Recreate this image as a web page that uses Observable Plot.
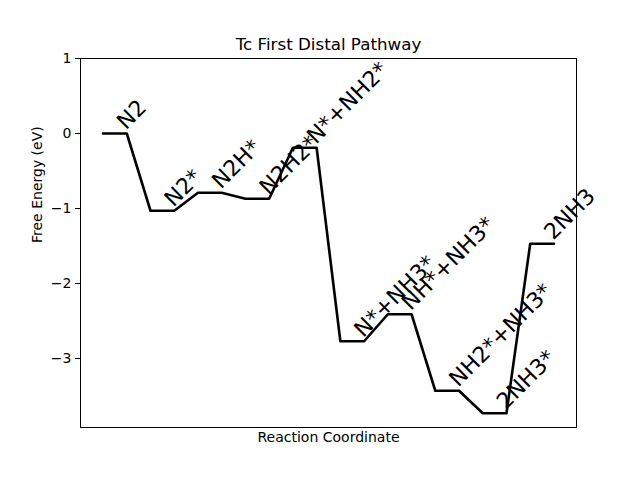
<!DOCTYPE html>
<html>
<head>
<meta charset="utf-8">
<script src="https://cdn.jsdelivr.net/npm/d3@7"></script>
<script src="https://cdn.jsdelivr.net/npm/@observablehq/plot@0.6"></script>
<style>
  html, body { margin: 0; padding: 0; background: white; }
</style>
</head>
<body>
<div id="chart"></div>
<script>
const species = ["N2", "N2*", "N2H*", "N2H2*", "N*+NH2*", "N*+NH3*", "NH*+NH3*", "NH2*+NH3*", "2NH3*", "2NH3"];
const energies = [0, -1.03, -0.79, -0.87, -0.19, -2.77, -2.41, -3.43, -3.73, -1.47];
const yTicks = [1, 0, -1, -2, -3];
const title = "Tc First Distal Pathway";
const xLabel = "Reaction Coordinate";
const yLabel = "Free Energy (eV)";

const path = energies.flatMap((e, i) => [{x: 2 * i, y: e}, {x: 2 * i + 1, y: e}]);
const labelRows = species.map((s, i) => ({x: 2 * i, y: energies[i], label: s}));
const fmt = d => d < 0 ? "\u2212" + Math.abs(d) : String(d);

const chart = Plot.plot({
  width: 640,
  height: 480,
  marginLeft: 80,
  marginRight: 64,
  marginTop: 58,
  marginBottom: 53,
  style: {fontFamily: "DejaVu Sans", fontSize: "14px", background: "white", color: "black"},
  x: {domain: [-0.95, 19.95], axis: null},
  y: {domain: [-3.92, 1], axis: null},
  marks: [
    Plot.frame({stroke: "black", strokeWidth: 1}),
    Plot.line(path, {x: "x", y: "y", stroke: "black", strokeWidth: 2.6}),
    Plot.text(labelRows, {x: "x", y: "y", text: "label", rotate: -45, textAnchor: "start", lineAnchor: "bottom", dx: 23, dy: -3, fontSize: 22, fill: "black"}),
    Plot.axisY({ticks: yTicks, tickFormat: fmt, tickSize: 5, tickPadding: 4, label: null, fontSize: 14}),
    Plot.text([title], {frameAnchor: "top", dy: -9, lineAnchor: "bottom", fontSize: 16.7, fill: "black"}),
    Plot.text([xLabel], {frameAnchor: "bottom", dy: 5, lineAnchor: "top", fontSize: 14, fill: "black"}),
    Plot.text([yLabel], {frameAnchor: "left", dx: -39, rotate: -90, lineAnchor: "bottom", fontSize: 14, fill: "black"})
  ]
});
document.getElementById("chart").appendChild(chart);
</script>
</body>
</html>
